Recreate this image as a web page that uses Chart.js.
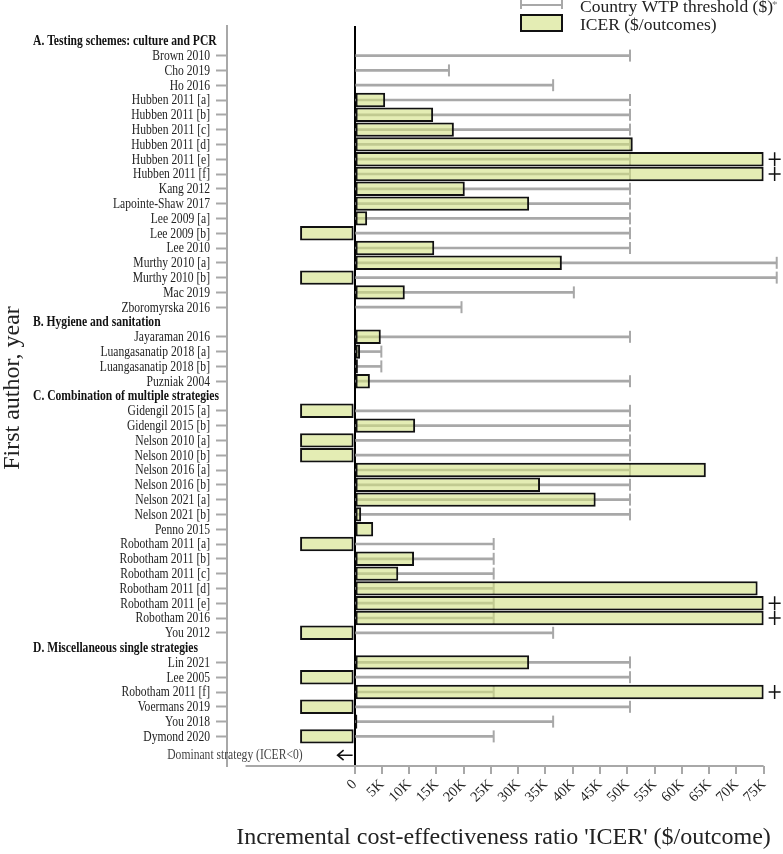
<!DOCTYPE html>
<html>
<head>
<meta charset="utf-8">
<script src="https://cdn.jsdelivr.net/npm/chart.js@4.4.1/dist/chart.umd.min.js"></script>
<style>
  html, body { margin: 0; padding: 0; background: #fff; }
  #wrap { width: 783px; height: 854px; }
</style>
</head>
<body>
<div id="wrap"><canvas id="chart"></canvas></div>
<script>
// section titles (drawn bold, left aligned)
const sectionHeaders = [
  'A. Testing schemes: culture and PCR',
  'B. Hygiene and sanitation',
  'C. Combination of multiple strategies',
  'D. Miscellaneous single strategies'
];

const studies = [
  'A. Testing schemes: culture and PCR',
  'Brown 2010', 'Cho 2019', 'Ho 2016',
  'Hubben 2011 [a]', 'Hubben 2011 [b]', 'Hubben 2011 [c]', 'Hubben 2011 [d]', 'Hubben 2011 [e]', 'Hubben 2011 [f]',
  'Kang 2012', 'Lapointe-Shaw 2017', 'Lee 2009 [a]', 'Lee 2009 [b]', 'Lee 2010',
  'Murthy 2010 [a]', 'Murthy 2010 [b]', 'Mac 2019', 'Zboromyrska 2016',
  'B. Hygiene and sanitation',
  'Jayaraman 2016', 'Luangasanatip 2018 [a]', 'Luangasanatip 2018 [b]', 'Puzniak 2004',
  'C. Combination of multiple strategies',
  'Gidengil 2015 [a]', 'Gidengil 2015 [b]', 'Nelson 2010 [a]', 'Nelson 2010 [b]',
  'Nelson 2016 [a]', 'Nelson 2016 [b]', 'Nelson 2021 [a]', 'Nelson 2021 [b]', 'Penno 2015',
  'Robotham 2011 [a]', 'Robotham 2011 [b]', 'Robotham 2011 [c]', 'Robotham 2011 [d]', 'Robotham 2011 [e]',
  'Robotham 2016', 'You 2012',
  'D. Miscellaneous single strategies',
  'Lin 2021', 'Lee 2005', 'Robotham 2011 [f]', 'Voermans 2019', 'You 2018', 'Dymond 2020'
];

// ICER ($/outcome); dominant strategies (ICER<0) shown as -10K, values above 75K shown at 75K
const icer = [
  null,
  100, 100, 100,
  5600, 14400, 18200, 51000, 75000, 75000,
  20200, 32000, 2300, -10000, 14600,
  38000, -10000, 9200, 100,
  null,
  4800, 1000, 600, 2800,
  null,
  -10000, 11100, -10000, -10000,
  64400, 34000, 44200, 1200, 3400,
  -10000, 10900, 8000, 73900, 75000,
  75000, -10000,
  null,
  32000, -10000, 75000, -10000, 500, -10000
];

// country willingness-to-pay threshold ($)
const wtp = [
  null,
  50500, 17300, 36400,
  50500, 50500, 50500, 50500, 50500, 50500,
  50500, 50500, 50500, 50500, 50500,
  77400, 77400, 40200, 19600,
  null,
  50500, 4900, 4900, 50500,
  null,
  50500, 50500, 50500, 50500,
  50500, 50500, 50500, 50500, null,
  25500, 25500, 25500, 25500, 25500,
  25500, 36400,
  null,
  50500, 50500, 25500, 50500, 36400, 25500
];

const xTicks = [0, 5000, 10000, 15000, 20000, 25000, 30000, 35000, 40000, 45000, 50000, 55000, 60000, 65000, 70000, 75000];
const X_MIN = -23400, X_MAX = 78000, AXIS_START = -20000, CAP = 75000;

const FONT = "'Liberation Serif', 'Times New Roman', serif";
const GREY = '#a8a8a8';
const FILL = 'rgba(210,225,130,0.6)';
const SQUEEZE = 0.8;   // label text is narrow in the original

// blank row at top, dominant-strategy note row + blank row at bottom
const rows = [''].concat(studies, ['', '']);
const pad = arr => [null].concat(arr, [null, null]);
const DOMINANT_ROW = studies.length + 1;

function narrowText(ctx, text, x, y, align) {
  ctx.save();
  ctx.translate(x, y);
  ctx.scale(SQUEEZE, 1);
  ctx.textAlign = align;
  ctx.fillText(text, 0, 0);
  ctx.restore();
}

const extras = {
  id: 'extras',
  afterDraw(chart) {
    const ctx = chart.ctx;
    const x = chart.scales.x, y = chart.scales.y;
    const area = chart.chartArea;
    ctx.save();

    // x axis line
    ctx.strokeStyle = GREY;
    ctx.lineWidth = 2;
    ctx.beginPath();
    ctx.moveTo(x.getPixelForValue(AXIS_START), area.bottom);
    ctx.lineTo(x.getPixelForValue(CAP), area.bottom);
    ctx.stroke();

    // study labels and section headers
    ctx.textBaseline = 'middle';
    rows.forEach((r, i) => {
      if (!r) return;
      const py = y.getPixelForValue(i) + 0.5;
      if (sectionHeaders.includes(r)) {
        ctx.fillStyle = '#111';
        ctx.font = 'bold 14.5px ' + FONT;
        narrowText(ctx, r, 33, py, 'left');
      } else {
        ctx.fillStyle = '#222';
        ctx.font = '14.5px ' + FONT;
        narrowText(ctx, r, 210, py, 'right');
      }
    });

    // y axis title
    ctx.save();
    ctx.translate(13, 388);
    ctx.rotate(-Math.PI / 2);
    ctx.fillStyle = '#222';
    ctx.font = '24px ' + FONT;
    ctx.textAlign = 'center';
    ctx.fillText('First author, year', 0, 0);
    ctx.restore();

    // "+" for truncated bars
    ctx.strokeStyle = '#111';
    ctx.lineWidth = 1.5;
    icer.forEach((v, i) => {
      if (v !== null && v >= CAP) {
        const cx = x.getPixelForValue(v) + 11, cy = y.getPixelForValue(i + 1);
        ctx.beginPath();
        ctx.moveTo(cx - 6, cy); ctx.lineTo(cx + 6, cy);
        ctx.moveTo(cx, cy - 7); ctx.lineTo(cx, cy + 7);
        ctx.stroke();
      }
    });

    // dominant strategy note + arrow
    const dy = y.getPixelForValue(DOMINANT_ROW) + 4;
    const x0 = x.getPixelForValue(0);
    ctx.fillStyle = '#444';
    ctx.font = '14.5px ' + FONT;
    narrowText(ctx, 'Dominant strategy (ICER<0)', x0 - 52, dy, 'right');
    ctx.strokeStyle = '#111';
    ctx.lineWidth = 1.6;
    ctx.beginPath();
    ctx.moveTo(x0 - 2, dy); ctx.lineTo(x0 - 17, dy);
    ctx.moveTo(x0 - 11, dy - 5); ctx.lineTo(x0 - 17, dy); ctx.lineTo(x0 - 11, dy + 5);
    ctx.stroke();

    // legend
    ctx.strokeStyle = GREY;
    ctx.lineWidth = 2;
    ctx.beginPath();
    ctx.moveTo(521, 5); ctx.lineTo(562, 5);
    ctx.moveTo(521, -1); ctx.lineTo(521, 9);
    ctx.moveTo(562, -1); ctx.lineTo(562, 9);
    ctx.stroke();
    ctx.fillStyle = FILL;
    ctx.fillRect(521, 15, 41, 16);
    ctx.strokeStyle = '#111';
    ctx.strokeRect(521, 15, 41, 16);
    ctx.fillStyle = '#222';
    ctx.font = '17.5px ' + FONT;
    ctx.textAlign = 'left';
    ctx.textBaseline = 'alphabetic';
    ctx.fillText('Country WTP threshold ($)', 580, 12);
    ctx.fillText('ICER ($/outcomes)', 580, 30);
    ctx.fillStyle = '#777';
    ctx.font = '11px ' + FONT;
    ctx.fillText('*', 772, 8);

    ctx.restore();
  }
};

new Chart(document.getElementById('chart'), {
  data: {
    labels: rows,
    datasets: [
      {
        type: 'bar',
        label: 'Country WTP threshold ($)*',
        indexAxis: 'y',
        data: pad(wtp),
        backgroundColor: GREY,
        barThickness: 2,
        grouped: false,
        order: 3
      },
      {
        type: 'line',
        label: 'WTP cap',
        indexAxis: 'y',
        data: pad(wtp),
        showLine: false,
        pointStyle: 'line',
        rotation: 90,
        pointRadius: 6,
        pointBorderColor: GREY,
        pointBorderWidth: 2,
        clip: false,
        order: 2
      },
      {
        type: 'bar',
        label: 'ICER ($/outcomes)',
        indexAxis: 'y',
        data: pad(icer),
        backgroundColor: FILL,
        borderColor: '#111',
        borderWidth: 2,
        borderSkipped: false,
        barPercentage: 0.97,
        categoryPercentage: 1,
        grouped: false,
        order: 1
      }
    ]
  },
  options: {
    indexAxis: 'y',
    responsive: true,
    maintainAspectRatio: false,
    animation: false,
    layout: { autoPadding: false, padding: { top: 26, right: 3, left: 0, bottom: 0 } },
    plugins: { legend: { display: false }, tooltip: { enabled: false } },
    scales: {
      x: {
        type: 'linear',
        min: X_MIN,
        max: X_MAX,
        afterBuildTicks: s => { s.ticks = xTicks.map(v => ({ value: v })); },
        afterFit: s => { s.height = 88; s.paddingLeft = 0; s.paddingRight = 0; },
        border: { display: false },
        grid: {
          color: c => (c.tick && c.tick.value === 0) ? '#000' : 'rgba(0,0,0,0)',
          lineWidth: c => (c.tick && c.tick.value === 0) ? 2 : 0,
          tickColor: GREY,
          tickWidth: 2,
          tickLength: 8
        },
        ticks: {
          callback: v => v === 0 ? '0' : (v / 1000) + 'K',
          font: { family: FONT, size: 14.5 },
          color: '#222',
          minRotation: 45,
          maxRotation: 45,
          padding: 2
        },
        title: {
          display: true,
          text: "Incremental cost-effectiveness ratio 'ICER' ($/outcome)",
          font: { family: FONT, size: 24 },
          color: '#222',
          padding: { top: 4, bottom: 2 }
        }
      },
      y: {
        type: 'category',
        offset: false,
        afterFit: s => { s.width = 227; s.paddingTop = 0; s.paddingBottom = 0; },
        border: { color: GREY, width: 2 },
        grid: {
          offset: false,
          drawOnChartArea: false,
          tickLength: 11,
          tickWidth: 2,
          tickColor: c => {
            const r = rows[c.index];
            return (r && !sectionHeaders.includes(r)) ? GREY : 'rgba(0,0,0,0)';
          }
        },
        ticks: {
          autoSkip: false,
          padding: 5,
          font: { family: FONT, size: 14 },
          callback: () => ''
        },
        title: { display: false }
      }
    }
  },
  plugins: [extras]
});
</script>
</body>
</html>
